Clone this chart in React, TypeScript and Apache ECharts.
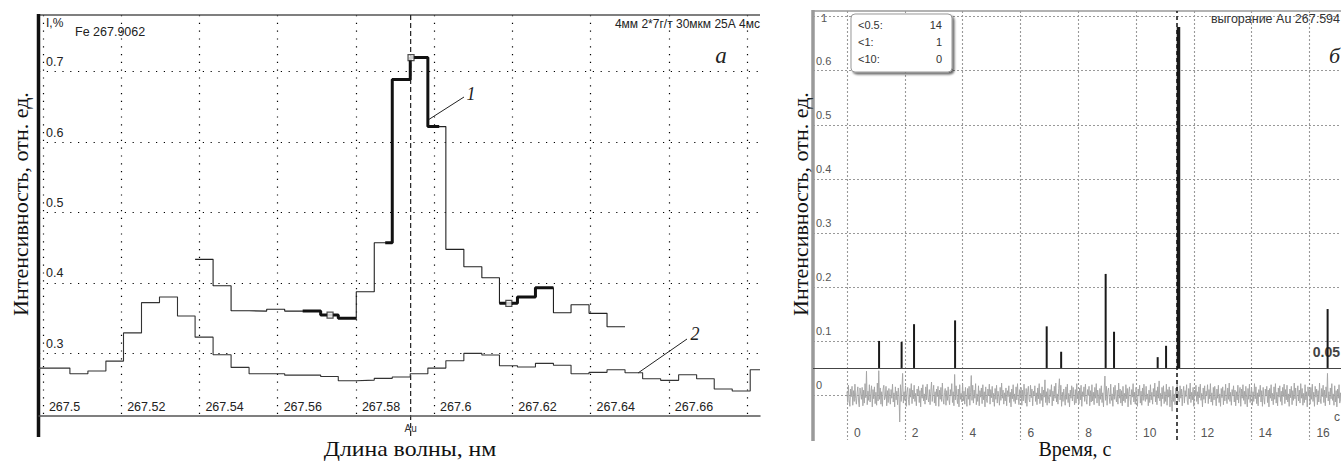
import React, { useEffect, useRef } from 'react';
import * as echarts from 'echarts';

// ---------------- panel "а": spectrum around Au 267.594 nm ----------------
const X0_MIN = 267.499;
const X0_MAX = 267.6833;
const Y0_MIN = 0.211;
const Y0_MAX = 0.7805;
const X0_TICKS = [267.5, 267.52, 267.54, 267.56, 267.58, 267.6, 267.62, 267.64, 267.66, 267.68];
const X0_LABEL_TICKS = [267.5, 267.52, 267.54, 267.56, 267.58, 267.6, 267.62, 267.64, 267.66];
const Y0_TICKS = [0.3, 0.4, 0.5, 0.6, 0.7];

// pixel (channel) edges of the spectrometer, nm
const STEP_EDGES = [
  267.5069, 267.5115, 267.5161, 267.5206, 267.5252, 267.5298, 267.5344, 267.5389, 267.5435, 267.5481,
  267.5527, 267.5572, 267.5618, 267.5664, 267.571, 267.5755, 267.5801, 267.5847, 267.5893, 267.5939,
  267.5984, 267.603, 267.6076, 267.6122, 267.6167, 267.6213, 267.6259, 267.6305, 267.635, 267.6396,
  267.6442, 267.6488, 267.6533, 267.6579, 267.6625, 267.6671, 267.6716, 267.6762, 267.6808,
];
// curve 2: from the axis start to the axis end (one value per channel)
const LINE2_VALUES = [
  0.279, 0.271, 0.275, 0.289, 0.329, 0.372, 0.38, 0.353, 0.323, 0.298,
  0.28, 0.271, 0.271, 0.269, 0.269, 0.267, 0.261, 0.262, 0.2645, 0.2663,
  0.271, 0.279, 0.2895, 0.3, 0.2976, 0.2824, 0.2805, 0.2858, 0.283, 0.271,
  0.273, 0.2767, 0.2724, 0.264, 0.2616, 0.2696, 0.264, 0.2493, 0.2464, 0.2767,
];
// curve 1: starts at edge #7
const LINE1_FIRST_EDGE = 7;
const LINE1_VALUES = [
  0.4335, 0.396, 0.3605, 0.36, 0.3625, 0.36, 0.36, 0.3544, 0.3497, 0.3875,
  0.457, 0.689, 0.72, 0.622, 0.4477, 0.423, 0.4074, 0.371, 0.38, 0.393,
  0.3577, 0.369, 0.3568, 0.3378,
];
const THICK_RANGES = [
  [267.5664, 267.5801],
  [267.5875, 267.6013],
  [267.6167, 267.6305],
];
const PEAK_MARKERS = [
  [267.5734, 0.3544],
  [267.5941, 0.72],
  [267.6191, 0.371],
];
const AU_LINE = 267.594;

// ---------------- panel "б": time scan ----------------
const X1_MIN = -1.176;
const X1_MAX = 17.093;
const Y1_MIN = -0.0833;
const Y1_MAX = 0.7105;
const X1_TICKS = [0, 2, 4, 6, 8, 10, 12, 14, 16];
const Y1_GRID = [0, 0.1, 0.2, 0.3, 0.4, 0.5, 0.6, 0.7];
const Y1_LABELS = [0, 0.1, 0.2, 0.3, 0.4, 0.5, 0.6];
const THRESHOLD = 0.05;
const BURN_LINE = 11.42;
const SPIKE_TIMES = [1.11, 1.89, 2.32, 3.74, 6.91, 7.41, 8.95, 9.24, 10.75, 11.04, 11.47, 16.63];
const SPIKE_PEAKS = [0.1, 0.098, 0.131, 0.138, 0.127, 0.08, 0.224, 0.117, 0.07, 0.091, 0.681, 0.159];
const NOISE_DT = 0.025;
// background signal, units of 0.001
const NOISE_MILLI = [
  6, -14, 18, -9, -21, 11, -3, 16, -19, 8, -12, 20, -6, -17, 4, 15, -11, -22, 13, 2,
  -8, 14, -20, 9, -15, 21, -5, 44, -18, 7, -10, 19, -13, 3, 17, -22, 10, -7, 15, -16,
  5, -19, 22, -11, 45, -8, 13, -17, 6, -21, 11, 18, -9, -4, 16, -20, 8, -14, 12, -3,
  -17, 10, -6, 20, -13, 4, -22, 15, -9, 7, -18, 13, -2, -50, 19, -12, 9, 40, -15, 6,
  -10, 17, -21, 5, 14, -8, -19, 12, -4, 21, -16, 9, -7, 18, -12, 3, -20, 11, -1, 16,
  -14, 8, -22, 13, -6, 19, -11, 2, -17, 15, -9, 20, -5, -13, 10, -18, 7, 24, -12, 4,
  18, -15, 6, -20, 11, -3, 16, -21, 9, -8, 14, -12, 22, -6, -17, 5, 12, -19, 8, -10,
  15, -7, -18, 10, -2, 21, -14, 6, -20, 38, -9, 17, -4, -16, 11, -22, 19, -8, 3, -13,
  20, -11, 7, -17, 14, -5, -21, 12, -8, 16, -19, 4, 36, -10, 18, -15, 9, -6, 21, -18,
  2, -12, 17, -20, 8, -4, 13, -16, 19, -9, 6, -22, 15, -7, -14, 11, -2, 20, -17, 10,
  -5, 16, -13, 3, -21, 12, -8, 18, -15, 7, -2, -19, 14, -10, 22, -6, 9, -17, 4, -11,
  13, -20, 8, -3, 17, -14, 5, -22, 11, -7, 19, -12, 2, -16, 15, -9, 21, -4, -18, 10,
  -6, 14, -19, 9, -11, 20, -2, -15, 12, -21, 6, 16, -8, -13, 18, -5, 11, -20, 7, -1,
  17, -12, 4, -18, 13, -7, 21, -16, 3, -10, 15, -22, 9, -4, 28, -14, 6, -19, 12, -8,
  -15, 10, -3, 19, -20, 7, -11, 16, -6, 22, -13, 2, -17, 12, 30, -9, 18, -21, 5, -12,
  11, -4, -19, 15, -8, 20, -14, 3, -22, 9, -6, 17, -11, 14, -2, -18, 10, -15, 21, -7,
  4, -16, 13, -9, 18, -21, 6, -3, 15, -12, 20, -7, -17, 10, -1, 16, -20, 8, -13, 19,
  -11, 5, -18, 14, -6, 21, -15, 9, -2, -20, 12, -8, 17, -14, 4, -22, 11, 35, -10, 16,
  -19, 7, 13, -5, -16, 20, -10, 2, -21, 14, -8, 18, -3, -13, 9, -17, 22, -6, 11, -15,
  8, -20, 16, -11, 3, -14, 19, -7, 12, -22, 6, 15, -9, -18, 10, -4, 21, -13, 5, -17,
  14, -6, -21, 11, -2, 18, -15, 7, -19, 13, -10, 20, -5, -12, 16, -8, 2, -20, 9, -14,
  19, -9, 5, -17, 12, -3, 22, -13, 8, -18, 15, -6, 26, -11, 3, -21, 14, -7, 17, -16,
  6, -12, 20, -19, 10, -4, 15, -22, 9, -8, -30, 16, -12, 2, -18, 13, -5, 21, -10, 7,
  -13, 17, -6, 11, -20, 4, 16, -15, 8, -3, 19, -11, -18, 12, -7, 22, -14, 5, -9, 14,
  -21, 9, -2, 18, -12, 6, -17, 15, -5, 20, -10, 3, -22, 13, -8, 17, -15, 7, -1, 19,
  -16, 10, -7, 21, -13, 4, -19, 14, -9, 16, -3, -20, 11, -6, 18, -14, 2, -21, 12, -5,
  15, -18, 8, -11, 20, -4, -16, 13, -8, 22, -12, 5, -19, 10, -2, 17, -13, 9, -20, 6,
  -9, 18, -15, 3, 14, -21, 11, -6, 19, -10, 7, -17, 16, -4, -22, 12, -8, 20, -14, 2,
  13, -19, 6, -12, 21, -7, 15, -16, 4, -20, 10, -3, 18, -13, 8, -21, 14, -5, -17, 11,
  -2, 16, -14, 9, -22, 12, -6, 19, -11, 3, -18, 15, -8, 21, -15, 5, -20, 13, -4, 17,
  -12, 7, -19, 14, -3, 20, -16, 10, -9, 18, -13, 2, -21, 11, -5, 16, -18, 8, -10, 22,
  -7, 13, -20, 4, 17, -11, 9, -15, 21, -6, 12, -19, 3, -14, 19, -9, 6, -22, 15, -2,
  10, -17, 14, -8, 20, -12, 5, -21, 16, -4, 11, -18, 8, -13, 22, -6, -16, 12, -3, 18,
  -14, 9, -20, 15, -5, 40, -11, 6, -18, 13, -7, 21, -10, 2, -19, 17, -13, 8, -22, 11,
  -6, 19, -15, 4, -12, 16, -9, 20, -17, 7, -3, 14, -21, 10, -8, 18, -14, 5, -11, 13,
];
const COUNT_LABELS = ['<0.5:', '<1:', '<10:'];
const COUNT_VALUES = [14, 1, 0];

const SANS = '"Liberation Sans", Arial, sans-serif';
const SERIF = '"Liberation Serif", "Times New Roman", serif';

function stepPoints(edges: number[], values: number[]): number[][] {
  const pts: number[][] = values.map((v, i) => [edges[i], v]);
  pts.push([edges[values.length], values[values.length - 1]]);
  return pts;
}

function clipSteps(pts: number[][], a: number, b: number): number[][] {
  const valAt = (x: number) => {
    let v = pts[0][1];
    for (const p of pts) if (p[0] <= x) v = p[1];
    return v;
  };
  const out: number[][] = [[a, valAt(a)]];
  for (const p of pts) if (p[0] > a && p[0] < b) out.push(p);
  out.push([b, valAt(b - 1e-7)]);
  return out;
}

function buildOption() {
  const line2 = stepPoints([X0_MIN, ...STEP_EDGES, X0_MAX], LINE2_VALUES);
  const line1 = stepPoints(STEP_EDGES.slice(LINE1_FIRST_EDGE), LINE1_VALUES);
  const noise = NOISE_MILLI.map((v, i) => [i * NOISE_DT, v / 1000]);
  const spikes = SPIKE_TIMES.map((t, i) => [t, SPIKE_PEAKS[i]]);

  const dotted0 = { color: '#000', type: [1.2, 6.6], width: 1.2 };
  const dotted1 = { color: '#999', type: [2, 2], width: 1.1 };

  return {
    animation: false,
    backgroundColor: '#ffffff',
    grid: [
      { left: 39, top: 15, width: 721, height: 401 },
      { left: 813, top: 11, width: 528, height: 429 },
    ],
    xAxis: [
      {
        type: 'value', gridIndex: 0, min: X0_MIN, max: X0_MAX,
        axisLine: { show: true, onZero: false, lineStyle: { color: '#555', width: 1.5 } },
        axisTick: { show: false, customValues: X0_TICKS },
        axisLabel: {
          show: true, inside: true, customValues: X0_LABEL_TICKS,
          formatter: (v: number) => String(Number(v.toFixed(2))),
          align: 'left', verticalAlign: 'bottom', margin: 3, padding: [0, 0, 0, 6],
          color: '#222', fontFamily: SANS, fontSize: 12.5,
        },
        splitLine: { show: true, lineStyle: dotted0 },
      },
      {
        type: 'value', gridIndex: 1, min: X1_MIN, max: X1_MAX,
        axisLine: { show: false },
        axisTick: { show: false, customValues: X1_TICKS },
        axisLabel: {
          show: true, inside: true, customValues: X1_TICKS,
          formatter: (v: number) => String(v),
          align: 'left', verticalAlign: 'bottom', margin: 1, padding: [0, 0, 0, 7],
          color: '#555', fontFamily: SANS, fontSize: 12,
        },
        splitLine: { show: true, lineStyle: dotted1 },
      },
    ],
    yAxis: [
      {
        type: 'value', gridIndex: 0, min: Y0_MIN, max: Y0_MAX,
        axisLine: { show: false },
        axisTick: { show: false, customValues: Y0_TICKS },
        axisLabel: {
          show: true, inside: true, customValues: Y0_TICKS,
          formatter: (v: number) => v.toFixed(1),
          align: 'left', verticalAlign: 'bottom', margin: 7, padding: [0, 0, 3, 0],
          color: '#222', fontFamily: SANS, fontSize: 12.5,
        },
        splitLine: { show: true, lineStyle: dotted0 },
      },
      {
        type: 'value', gridIndex: 1, min: Y1_MIN, max: Y1_MAX,
        axisLine: { show: false },
        axisTick: { show: false, customValues: Y1_GRID },
        axisLabel: {
          show: true, inside: true, customValues: Y1_LABELS,
          formatter: (v: number) => (v === 0 ? '0' : v.toFixed(1)),
          align: 'left', verticalAlign: 'bottom', margin: 3, padding: [0, 0, 4, 0],
          color: '#555', fontFamily: SANS, fontSize: 11,
        },
        splitLine: { show: true, lineStyle: dotted1 },
      },
    ],
    series: [
      {
        type: 'line', xAxisIndex: 0, yAxisIndex: 0, step: 'end', data: line2,
        showSymbol: false, lineStyle: { color: '#333', width: 1.1 }, z: 3,
      },
      {
        type: 'line', xAxisIndex: 0, yAxisIndex: 0, step: 'end', data: line1,
        showSymbol: false, lineStyle: { color: '#222', width: 1.1 }, z: 3,
      },
      ...THICK_RANGES.map((r) => ({
        type: 'line', xAxisIndex: 0, yAxisIndex: 0, step: 'end',
        data: clipSteps(line1, r[0], r[1]),
        showSymbol: false, lineStyle: { color: '#111', width: 3 }, z: 4,
      })),
      {
        type: 'scatter', xAxisIndex: 0, yAxisIndex: 0, data: PEAK_MARKERS,
        symbol: 'rect', symbolSize: 6,
        itemStyle: { color: '#fff', borderColor: '#222', borderWidth: 1.2 }, z: 5,
      },
      {
        type: 'line', xAxisIndex: 1, yAxisIndex: 1, data: noise,
        showSymbol: false, lineStyle: { color: '#a3a3a3', width: 0.9 }, z: 2,
        markLine: {
          silent: true, symbol: 'none', label: { show: false },
          data: [
            { yAxis: THRESHOLD, lineStyle: { color: '#444', width: 1.2, type: 'solid' } },
            { xAxis: BURN_LINE, lineStyle: { color: '#111', width: 1.5, type: [4, 3] } },
          ],
        },
      },
      {
        type: 'custom', xAxisIndex: 1, yAxisIndex: 1, data: spikes,
        encode: { x: 0, y: 1 }, z: 4,
        renderItem: (params: any, api: any) => {
          const t = api.value(0);
          const v = api.value(1);
          const p0 = api.coord([t, THRESHOLD]);
          const p1 = api.coord([t, v]);
          return {
            type: 'line',
            shape: { x1: p0[0], y1: p0[1], x2: p1[0], y2: p1[1] },
            style: { stroke: '#1a1a1a', lineWidth: v > 0.5 ? 3.5 : 2 },
          };
        },
      },
    ],
  };
}

function txt(x: number, y: number, text: string, style: any, extra: any = {}) {
  return {
    type: 'text', x, y, silent: true, ...extra,
    style: { text, fill: '#222', fontFamily: SANS, fontSize: 12, align: 'left', verticalAlign: 'middle', ...style },
  };
}

function ln(x1: number, y1: number, x2: number, y2: number, style: any) {
  return { type: 'line', silent: true, shape: { x1, y1, x2, y2 }, style: { stroke: '#222', lineWidth: 1, ...style } };
}

function buildGraphic(auX: number) {
  const g: any[] = [];
  const title = { fontFamily: SERIF, fontSize: 22, align: 'center', fill: '#111' };
  // panel а frame and annotations
  g.push(ln(39, 15, 760, 15, { stroke: '#555', lineWidth: 1.5 }));
  g.push(ln(38.5, 14, 38.5, 437, { stroke: '#111', lineWidth: 3.5 }));
  g.push(ln(auX, 15, auX, 437, { stroke: '#222', lineWidth: 1.2, lineDash: [5, 3] }));
  g.push(txt(auX, 428, 'Au', { fontSize: 10, align: 'center', fill: '#333' }));
  g.push(txt(46, 23, 'I,%', { fontSize: 12 }));
  g.push(txt(75, 32, 'Fe 267.9062', { fontSize: 12.5 }));
  g.push(txt(760, 24, '4мм 2*7г/т 30мкм 25А 4мс', { fontSize: 12, align: 'right' }));
  g.push(txt(721, 55, 'а', { fontFamily: SERIF, fontStyle: 'italic', fontSize: 23, align: 'center' }));
  g.push(ln(428, 120, 464, 97, { lineWidth: 1 }));
  g.push(txt(471, 94, '1', { fontFamily: SERIF, fontStyle: 'italic', fontSize: 18, align: 'center' }));
  g.push(ln(638, 373, 687, 339, { lineWidth: 1 }));
  g.push(txt(695, 334, '2', { fontFamily: SERIF, fontStyle: 'italic', fontSize: 18, align: 'center' }));
  g.push(txt(20, 204, 'Интенсивность, отн. ед.', title, { rotation: Math.PI / 2 }));
  g.push(txt(410, 449, 'Длина волны, нм', title, { scaleX: 1.08 }));

  // panel б frame and annotations
  g.push(ln(813, 11, 1341, 11, { stroke: '#999', lineWidth: 1.5 }));
  g.push(ln(813, 10, 813, 441, { stroke: '#9a9a9a', lineWidth: 3.5 }));
  g.push({
    type: 'rect', silent: true,
    shape: { x: 851, y: 14, width: 101, height: 58, r: 4 },
    style: { fill: '#fff', stroke: '#999', lineWidth: 1, shadowBlur: 2, shadowOffsetX: 2, shadowOffsetY: 2, shadowColor: 'rgba(0,0,0,0.6)' },
    z: 10,
  });
  COUNT_LABELS.forEach((lab, i) => {
    g.push({ ...txt(858, 25 + i * 17, lab, { fontSize: 11, fill: '#333' }), z: 11 });
    g.push({ ...txt(942, 25 + i * 17, String(COUNT_VALUES[i]), { fontSize: 11, fill: '#333', align: 'right' }), z: 11 });
  });
  g.push(txt(821, 18, '1', { fontSize: 11, fill: '#555' }));
  g.push(txt(1340, 19, 'выгорание Au 267.594', { fontSize: 12.5, fill: '#333', align: 'right' }));
  g.push(txt(1329, 55, 'б', { fontFamily: SERIF, fontStyle: 'italic', fontSize: 22, align: 'left' }));
  g.push(txt(1340, 352, '0.05', { fontSize: 14, fontWeight: 'bold', fill: '#444', align: 'right' }));
  g.push(txt(1334, 417, 'с', { fontSize: 12, fill: '#555' }));
  g.push(txt(800, 204, 'Интенсивность, отн. ед.', title, { rotation: Math.PI / 2 }));
  g.push(txt(1075, 449, 'Время, с', { ...title, fontSize: 20 }));
  return g;
}

export default function App() {
  const ref = useRef<HTMLDivElement>(null);
  useEffect(() => {
    document.body.style.margin = '0';
    const chart = echarts.init(ref.current as HTMLDivElement, null, { renderer: 'svg' });
    chart.setOption(buildOption() as any);
    const auX = chart.convertToPixel({ xAxisIndex: 0 } as any, AU_LINE) as unknown as number;
    chart.setOption({ graphic: buildGraphic(auX) } as any);
    return () => chart.dispose();
  }, []);
  return <div ref={ref} style={{ width: 1341, height: 461 }} />;
}
